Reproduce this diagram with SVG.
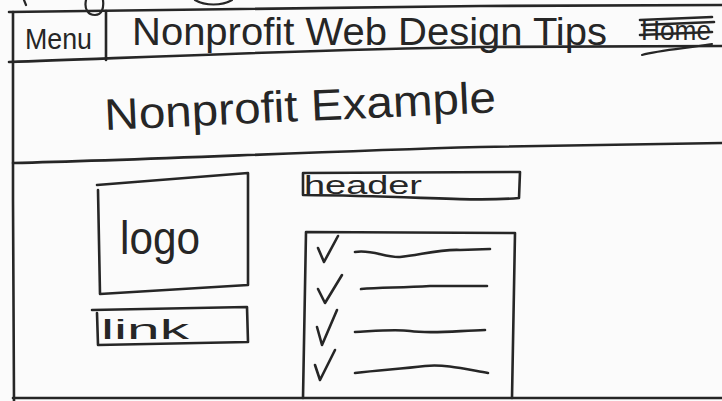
<svg xmlns="http://www.w3.org/2000/svg" width="722" height="401" viewBox="0 0 722 401">
  <style>
    .ink { fill: none; stroke: #262626; stroke-width: 2.6; stroke-linecap: round; stroke-linejoin: round; }
    .thin { fill: none; stroke: #262626; stroke-width: 2.2; stroke-linecap: round; stroke-linejoin: round; }
    .hand { font-family: "Liberation Sans", "DejaVu Sans", sans-serif; fill: #262626; font-weight: normal; }
  </style>
  <rect width="722" height="401" fill="#fbfbfb"/>

  <!-- cut-off strokes above frame -->
  <g id="top-fragments" class="thin">
    <path d="M24 0 L26 5"/>
    <path d="M86 0 C 84 9, 88 15, 95 15 C 102 15, 104 8, 103 0"/>
    <path d="M195 0 C 205 6, 222 6, 232 0"/>
  </g>

  <!-- page frame -->
  <g id="frame">
    <path class="ink" d="M9 12 L240 9 L480 6 L722 5"/>
    <path class="ink" d="M13 12 L13 200 L14 401"/>
    <path class="ink" d="M13 398 L722 398"/>
  </g>

  <!-- nav bar -->
  <g id="nav">
    <path class="ink" d="M106 11 L106 60"/>
    <path class="ink" d="M9 62 C 150 57, 300 50, 480 47 L722 46"/>
    <text class="hand" x="25" y="49" font-size="30" textLength="67" lengthAdjust="spacingAndGlyphs">Menu</text>
    <text class="hand" x="132" y="45" font-size="38" textLength="475" lengthAdjust="spacingAndGlyphs">Nonprofit Web Design Tips</text>
  </g>

  <g id="home">
    <text class="hand" x="641" y="40" font-size="28" textLength="70" lengthAdjust="spacingAndGlyphs">Home</text>
    <path class="ink" d="M640 20 L712 17"/>
    <path class="ink" d="M642 25 L714 22"/>
    <path class="ink" d="M640 35 L712 32"/>
    <path class="thin" d="M642 55 C 660 50, 690 48, 712 44"/>
  </g>

  <!-- title -->
  <g id="title">
    <text class="hand" x="105" y="130" font-size="44" textLength="392" lengthAdjust="spacingAndGlyphs" transform="rotate(-2.6 105 130)">Nonprofit Example</text>
    <path class="ink" d="M13 163 C 150 160, 300 152, 480 147 L722 143"/>
  </g>

  <!-- logo box -->
  <g id="logo">
    <path class="ink" d="M97 185 L248 173 L248 285 L100 294 L98 190"/>
    <text class="hand" x="120" y="254" font-size="46" textLength="80" lengthAdjust="spacingAndGlyphs">logo</text>
  </g>

  <!-- link box -->
  <g id="link">
    <path class="ink" d="M92 310 L247 307 L248 342 L98 345 L97 313"/>
    <text class="hand" x="101" y="339" font-size="28" textLength="88" lengthAdjust="spacingAndGlyphs">link</text>
  </g>

  <!-- header box -->
  <g id="header">
    <path class="ink" d="M303 173 L520 172 L519 198 C 470 202, 420 196, 303 195 Z"/>
    <text class="hand" x="304" y="194" font-size="25" textLength="118" lengthAdjust="spacingAndGlyphs">header</text>
  </g>

  <!-- checklist box -->
  <g id="checklist">
    <path class="ink" d="M303 398 L306 232 L515 233 L512 398"/>
    <path class="ink" d="M318 248 L324 262 L338 236"/>
    <path class="ink" d="M355 252 C 372 249, 385 258, 400 257 C 420 255, 440 249, 460 250 L490 249"/>
    <path class="ink" d="M318 289 L325 303 L342 275"/>
    <path class="ink" d="M361 289 C 380 287, 400 288, 430 286 L487 286"/>
    <path class="ink" d="M317 327 L322 345 L337 310"/>
    <path class="ink" d="M355 332 C 375 331, 395 329, 410 331 C 430 334, 455 331, 485 330"/>
    <path class="ink" d="M315 365 L320 380 L335 350"/>
    <path class="ink" d="M355 373 C 380 370, 400 369, 425 366 C 445 364, 465 369, 488 373"/>
  </g>

  <g id="connectors"></g>
</svg>
